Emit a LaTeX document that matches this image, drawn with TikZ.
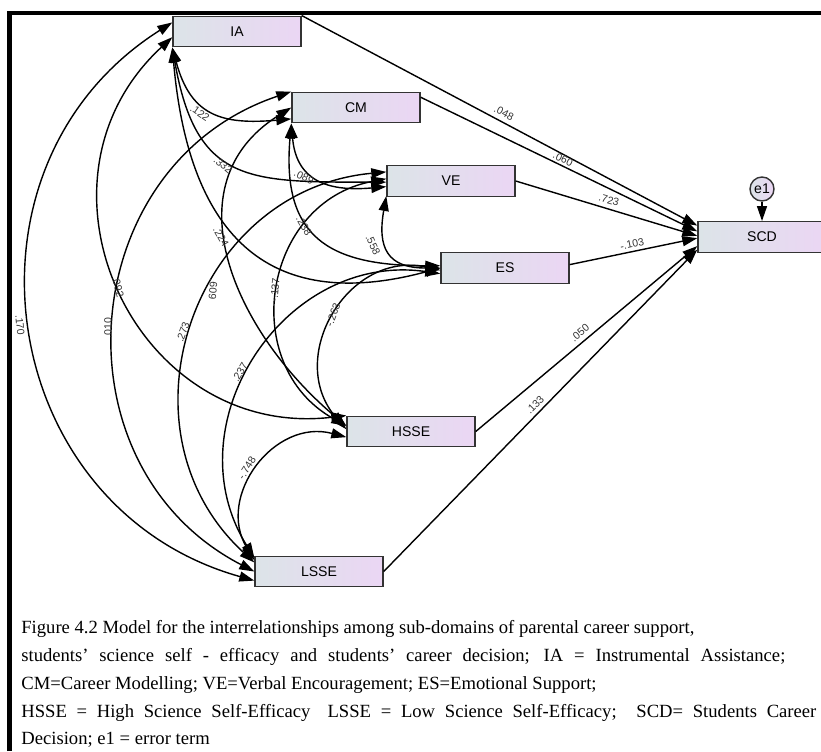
\documentclass[tikz,border=0pt]{standalone}
\usepackage{fontspec}
\setmainfont{Liberation Serif}
\setsansfont{Liberation Sans}
\usetikzlibrary{arrows.meta}
\definecolor{boxleft}{HTML}{DCE4E8}
\definecolor{boxright}{HTML}{EBD6F4}
\tikzset{
    var box/.style={
        draw=black!80,line width=.8pt,
        left color=boxleft,right color=boxright,
        minimum width=25.6mm,minimum height=6.1mm,inner sep=0pt,
        font=\sffamily\fontsize{8}{9}\selectfont
    },
    err node/.style={
        circle,draw=black!80,line width=.8pt,
        left color=boxleft,right color=boxright,
        minimum size=4.8mm,inner sep=0pt,
        font=\sffamily\fontsize{8}{9}\selectfont
    },
    cov/.style={<->,line width=.8pt},
    path arrow/.style={->,line width=.8pt},
    coef/.style={font=\sffamily\fontsize{6}{7}\selectfont,text=black!80,inner sep=1pt},
    caption line/.style={anchor=base west,inner sep=0pt,font=\fontsize{10.6}{12}\selectfont},
    >={Triangle[length=3mm,width=2mm]}
}
\begin{document}
\begin{tikzpicture}[x=.2mm,y=.2mm]
\useasboundingbox (0,0) rectangle (821,-751);
\draw[line width=.85mm] (9.5,-751) -- (9.5,-12.8) -- (821,-12.8);
% observed variables
\foreach \name/\x/\y in {IA/237/31.5,CM/356/107.5,VE/451/181,ES/505/268,HSSE/411/431.5,LSSE/319/571.5,SCD/762/237}
    \node[var box] (\name) at (\x,-\y) {\name};
\node[err node] (e1) at (762,-189) {e1};
% paths to SCD
\foreach \src/\tgt in {IA.north east/SCD.170,CM.9/SCD.175,VE.east/SCD.179,ES.3/SCD.181,HSSE.east/SCD.188,LSSE.east/SCD.191}
    \draw[path arrow] (\src) -- (\tgt);
\draw[path arrow] (e1) -- (SCD);
% covariances, short ones
\foreach \a/\b/\o/\i/\loose in {
    IA.south west/CM.190/-75/185/1.3,
    IA.south west/VE.181/-80/180/1.4,
    IA.south west/ES.west/-85/195/1.35,
    CM.south west/VE.185/-85/185/1.3,
    CM.south west/ES.178/-95/180/1.4,
    CM.west/HSSE.175/212/140/1.15,
    VE.193/ES.west/-100/180/1.5}
    \draw[cov] (\a) to[out=\o,in=\i,looseness=\loose] (\b);
% covariances, long ones
\foreach \a/\b/\ang/\loose in {
    IA.185/HSSE.north west/72/1.31,
    IA.172/LSSE.188/66/1.22,
    CM.north west/LSSE.180/67/1.22,
    VE.178/HSSE.175/70/1.28,
    VE.172/LSSE.172/66/1.21,
    ES.182/HSSE.178/72/1.31,
    ES.185/LSSE.168/65/1.19,
    HSSE.185/LSSE.170/68/1.24}
    \draw[cov] (\a) to[bend right=\ang,looseness=\loose] (\b);
% estimates
\foreach \x/\y/\r/\val [count=\i] in {
    200/113/-35/.122, 223/165/-40/.332, 304/177/-25/.089,
    221/237/-60/.224, 304/226/-60/.238, 373/245/-65/.558,
    118/287/-75/.092, 213/289/-95/.609, 275/290/85/-.137,
    333/315/70/-.263, 20/325/-85/.170, 108/328/90/.010,
    183/332/70/.273, 240/372/60/.237, 247/468/58/-.748}
    \node[coef,rotate=\r] (cov\i) at (\x,-\y) {\val};
\foreach \x/\y/\r/\val [count=\i] in {
    504/113/-28/.048, 563/159/-26/.060, 609/200/-16/.723,
    632/244/12/-.103, 580/333/40/.050, 535/405/45/.133}
    \node[coef,rotate=\r] (reg\i) at (\x,-\y) {\val};
% caption
\node[caption line] (cap1) at (21,-633) {Figure 4.2 Model for the interrelationships among sub-domains of parental career support,};
\node[caption line] (cap2) at (21,-661) {\makebox[152.8mm][s]{students’ science self - efficacy and students’ career decision; IA = Instrumental Assistance;}};
\node[caption line] (cap3) at (21,-689) {CM=Career Modelling; VE=Verbal Encouragement; ES=Emotional Support;};
\node[caption line] (cap4) at (21,-717) {\makebox[159mm][s]{HSSE = High Science Self-Efficacy\hspace{.4em} LSSE = Low Science Self-Efficacy;\hspace{.4em} SCD= Students Career}};
\node[caption line] (cap5) at (21,-744) {Decision; e1 = error term};
\end{tikzpicture}
\end{document}
